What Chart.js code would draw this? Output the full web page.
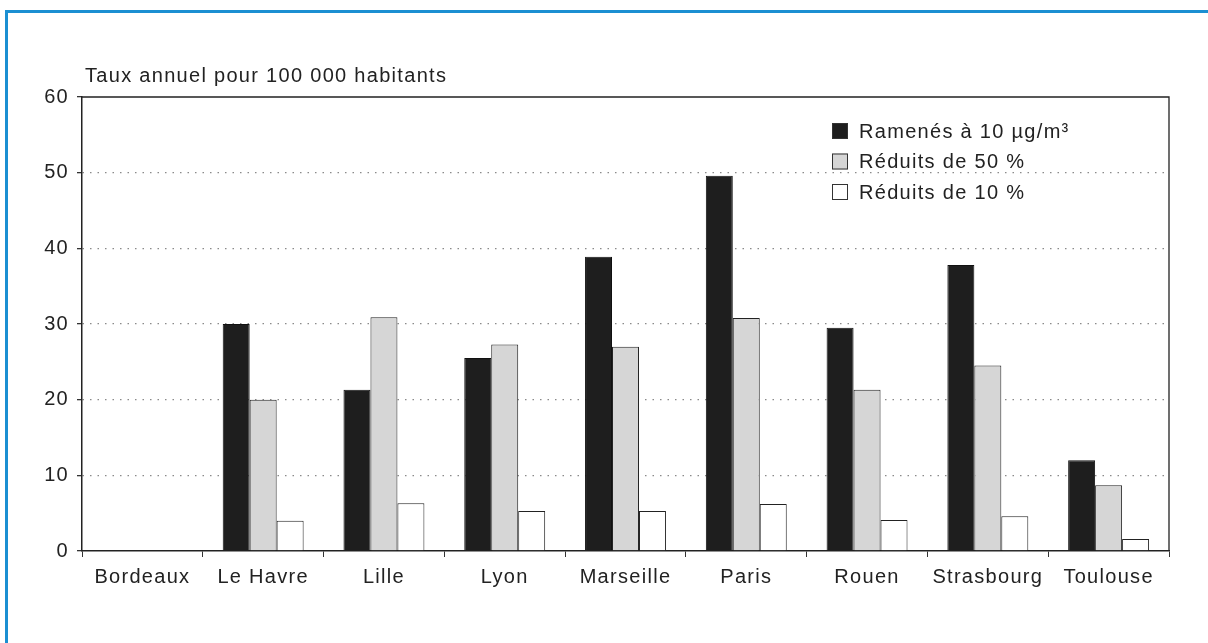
<!DOCTYPE html>
<html>
<head>
<meta charset="utf-8">
<script src="https://cdn.jsdelivr.net/npm/chart.js@4.4.1/dist/chart.umd.min.js"></script>
<style>
  html, body { margin: 0; padding: 0; background: #fff; }
  #wrap { position: relative; width: 1208px; height: 643px; overflow: hidden; }
  #frame { position: absolute; left: 5px; top: 10px; width: 1300px; height: 700px;
           border-left: 3px solid #1b8fd2; border-top: 3px solid #1b8fd2; pointer-events: none; }
  canvas { position: absolute; left: 0; top: 0; }
</style>
</head>
<body>
<div id="wrap">
  <canvas id="barChart" width="1208" height="643"></canvas>
  <div id="frame"></div>
</div>
<script>
var titleText = 'Taux annuel pour 100 000 habitants';
var cities = ['Bordeaux', 'Le Havre', 'Lille', 'Lyon', 'Marseille', 'Paris', 'Rouen', 'Strasbourg', 'Toulouse'];
var seriesNames = ['Ramenés à 10 µg/m³', 'Réduits de 50 %', 'Réduits de 10 %'];
var ramenes10 = [0, 30.0, 21.3, 25.5, 38.9, 49.6, 29.5, 37.8, 12.0];
var reduits50 = [0, 20.0, 30.9, 27.3, 27.0, 30.8, 21.3, 24.5, 8.7];
var reduits10 = [0, 4.0, 6.3, 5.3, 5.3, 6.2, 4.1, 4.6, 1.6];
var yTicks = [0, 10, 20, 30, 40, 50, 60];

var fontFam = '"Liberation Sans", Arial, Helvetica, sans-serif';
var fontSize = 20;
var spacing = '1.3px';

// letter spacing + title + plot frame + legend inside the plot
var extras = {
  id: 'extras',
  beforeDraw: function(chart) {
    chart.ctx.letterSpacing = spacing;
  },
  afterDraw: function(chart) {
    var ctx = chart.ctx, a = chart.chartArea;
    ctx.save();
    ctx.letterSpacing = spacing;
    // top and right border of the plot
    ctx.strokeStyle = '#222';
    ctx.lineWidth = 1.3;
    ctx.beginPath();
    ctx.moveTo(a.left, a.top);
    ctx.lineTo(a.right, a.top);
    ctx.lineTo(a.right, a.bottom);
    ctx.stroke();
    // title
    ctx.fillStyle = '#222';
    ctx.font = fontSize + 'px ' + fontFam;
    ctx.textBaseline = 'middle';
    ctx.textAlign = 'left';
    ctx.fillText(titleText, a.left + 3, 76);
    // legend
    var lx = a.left + 750, ly = 131;
    chart.data.datasets.forEach(function(ds, i) {
      var y = ly + i * 30.5;
      ctx.fillStyle = ds.backgroundColor;
      ctx.fillRect(lx, y - 8, 16, 16);
      ctx.strokeStyle = '#333';
      ctx.lineWidth = 1;
      ctx.strokeRect(lx + 0.5, y - 7.5, 15, 15);
      ctx.fillStyle = '#222';
      ctx.fillText(ds.label, lx + 27, y + 1);
    });
    ctx.restore();
  }
};

new Chart(document.getElementById('barChart'), {
  type: 'bar',
  data: {
    labels: cities,
    datasets: [
      { label: seriesNames[0], data: ramenes10, backgroundColor: '#1e1e1e', borderColor: '#111', borderWidth: 1 },
      { label: seriesNames[1], data: reduits50, backgroundColor: '#d6d6d6', borderColor: '#222', borderWidth: 1 },
      { label: seriesNames[2], data: reduits10, backgroundColor: '#ffffff', borderColor: '#222', borderWidth: 1 }
    ]
  },
  options: {
    responsive: false,
    animation: false,
    layout: { padding: { left: 0, top: 97, right: 39, bottom: 0 } },
    categoryPercentage: 0.67,
    barPercentage: 1.0,
    plugins: { legend: { display: false }, tooltip: { enabled: false } },
    scales: {
      x: {
        afterFit: function(s) { s.height = 92; },
        grid: { drawOnChartArea: false, tickLength: 6, tickColor: '#333', offset: true },
        border: { color: '#222', width: 1.5 },
        ticks: { color: '#222', font: { family: fontFam, size: fontSize }, padding: 8, maxRotation: 0, autoSkip: false }
      },
      y: {
        min: 0, max: 60,
        afterFit: function(s) { s.width = 82; },
        afterBuildTicks: function(s) { s.ticks = yTicks.map(function(v) { return { value: v }; }); },
        grid: {
          color: function(c) { return (c.tick && (c.tick.value === 0 || c.tick.value === 60)) ? 'rgba(0,0,0,0)' : '#8a8a8a'; },
          lineWidth: 1.3,
          tickColor: '#333',
          tickLength: 5,
          tickBorderDash: [],
        },
        border: { color: '#222', width: 1.5, dash: [1.5, 6] },
        ticks: { color: '#222', font: { family: fontFam, size: fontSize }, padding: 8 }
      }
    }
  },
  plugins: [extras]
});
</script>
</body>
</html>
